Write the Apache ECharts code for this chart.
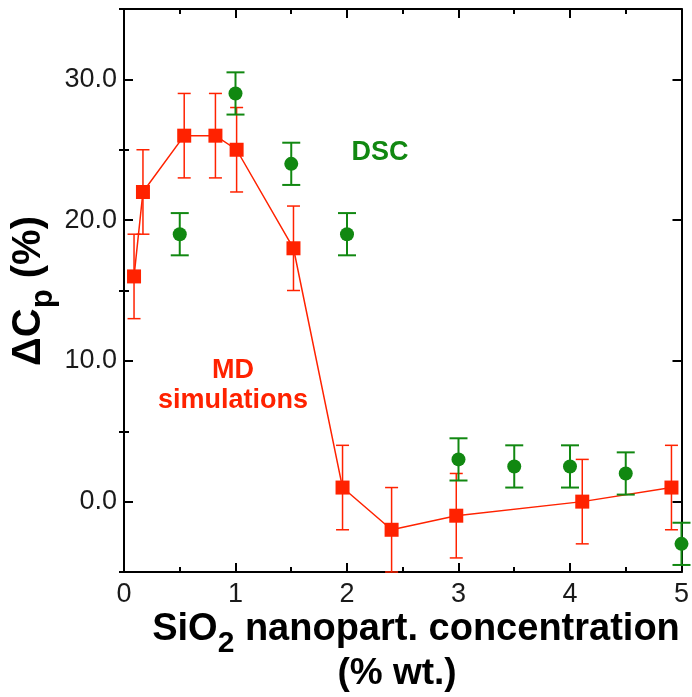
<!DOCTYPE html>
<html>
<head>
<meta charset="utf-8">
<script src="https://cdn.jsdelivr.net/npm/echarts@6/dist/echarts.min.js"></script>
<style>
  html, body { margin: 0; padding: 0; background: #fff; }
  #chart { width: 692px; height: 697px; }
</style>
</head>
<body>
<div id="chart"></div>
<script>
  // MD simulations (red squares + line)
  var mdX = [0.09, 0.17, 0.54, 0.82, 1.01, 1.52, 1.96, 2.40, 2.98, 4.11, 4.91];
  var mdY = [16, 22, 26, 26, 25, 18, 1, -2, -1, 0, 1];
  var mdErr = [3, 3, 3, 3, 3, 3, 3, 3, 3, 3, 3];
  // DSC measurements (green circles)
  var dscX = [0.5, 1.0, 1.5, 2.0, 3.0, 3.5, 4.0, 4.5, 5.0];
  var dscY = [19, 29, 24, 19, 3, 2.5, 2.5, 2, -3];
  var dscErr = [1.5, 1.5, 1.5, 1.5, 1.5, 1.5, 1.5, 1.5, 1.5];
  // y ticks
  var yMajor = [0, 10, 20, 30];
  var yMinor = [-5, 5, 15, 25, 35];

  var RED = '#ff2200';
  var GREEN = '#118811';
  var FONT = 'Liberation Sans, Arial, Helvetica, sans-serif';

  function pairs(xs, ys) {
    return xs.map(function (x, i) { return [x, ys[i]]; });
  }
  function ranges(xs, ys, es) {
    return xs.map(function (x, i) { return [x, ys[i] - es[i], ys[i] + es[i]]; });
  }

  // error bar with caps
  function errorBar(color, capHalf, width) {
    return function (params, api) {
      var x = api.value(0);
      var lo = api.coord([x, api.value(1)]);
      var hi = api.coord([x, api.value(2)]);
      var style = { stroke: color, lineWidth: width };
      return {
        type: 'group',
        children: [
          { type: 'line', shape: { x1: lo[0], y1: lo[1], x2: hi[0], y2: hi[1] }, style: style },
          { type: 'line', shape: { x1: lo[0] - capHalf, y1: lo[1], x2: lo[0] + capHalf, y2: lo[1] }, style: style },
          { type: 'line', shape: { x1: hi[0] - capHalf, y1: hi[1], x2: hi[0] + capHalf, y2: hi[1] }, style: style }
        ]
      };
    };
  }

  var axisLine = { show: true, onZero: false, lineStyle: { color: '#000', width: 2 } };
  var tickStyle = { color: '#000', width: 2 };
  var majorTick = { show: true, inside: true, length: 9, lineStyle: tickStyle };
  var minorTick = { show: true, splitNumber: 2, length: 5, lineStyle: tickStyle };

  function yAxisPair(pos, withLabels) {
    return [
      {
        type: 'value', min: -5, max: 35, position: pos,
        axisLine: axisLine,
        axisTick: { show: true, inside: true, length: 9, lineStyle: tickStyle, customValues: yMajor },
        splitLine: { show: false },
        axisLabel: withLabels ? {
          fontSize: 27, color: '#1a1a1a', fontFamily: FONT, margin: 7,
          customValues: yMajor,
          formatter: function (v) { return v.toFixed(1); }
        } : { show: false }
      },
      {
        type: 'value', min: -5, max: 35, position: pos,
        axisLine: { show: false },
        axisTick: { show: true, inside: true, length: 5, lineStyle: tickStyle, customValues: yMinor },
        splitLine: { show: false }, axisLabel: { show: false }
      }
    ];
  }

  var myChart = echarts.init(document.getElementById('chart'));
  var option = {
    animation: false,
    grid: { left: 124, top: 9, width: 562, height: 563 },
    xAxis: [
      {
        type: 'value', min: 0, max: 5, interval: 1, position: 'bottom',
        axisLine: axisLine, axisTick: majorTick, minorTick: minorTick,
        splitLine: { show: false },
        axisLabel: { fontSize: 27, color: '#1a1a1a', fontFamily: FONT, margin: 9 }
      },
      {
        type: 'value', min: 0, max: 5, interval: 1, position: 'top',
        axisLine: axisLine, axisTick: majorTick, minorTick: minorTick,
        splitLine: { show: false }, axisLabel: { show: false }
      }
    ],
    yAxis: yAxisPair('left', true).concat(yAxisPair('right', false)),
    series: [
      {
        type: 'custom', renderItem: errorBar(RED, 6.5, 1.5),
        data: ranges(mdX, mdY, mdErr), encode: { x: 0, y: [1, 2] }, z: 2
      },
      {
        type: 'line', data: pairs(mdX, mdY), symbol: 'rect', symbolSize: 14,
        itemStyle: { color: RED }, lineStyle: { color: RED, width: 1.5 }, z: 3
      },
      {
        type: 'custom', renderItem: errorBar(GREEN, 9, 2),
        data: ranges(dscX, dscY, dscErr), encode: { x: 0, y: [1, 2] }, z: 4
      },
      {
        type: 'scatter', data: pairs(dscX, dscY), symbol: 'circle', symbolSize: 14,
        itemStyle: { color: GREEN, opacity: 1 }, z: 5
      }
    ],
    graphic: [
      {
        type: 'text', x: 380, y: 153, z: 10,
        style: { text: 'DSC', font: 'bold 27px ' + FONT, fill: GREEN, align: 'center', verticalAlign: 'middle' }
      },
      {
        type: 'text', x: 233, y: 386, z: 10,
        style: { text: 'MD\nsimulations', font: 'bold 27px ' + FONT, fill: RED, align: 'center', verticalAlign: 'middle', lineHeight: 30 }
      },
      {
        type: 'text', x: 416, y: 630, z: 10,
        style: {
          text: '{a|SiO}{s|2}{a| nanopart. concentration}',
          align: 'center', verticalAlign: 'middle',
          rich: {
            a: { fontSize: 38, fontWeight: 'bold', fontFamily: FONT, lineHeight: 58, fill: '#000' },
            s: { fontSize: 30, fontWeight: 'bold', fontFamily: FONT, lineHeight: 30, verticalAlign: 'bottom', fill: '#000' }
          }
        }
      },
      {
        type: 'text', x: 397, y: 674, z: 10,
        style: { text: '(% wt.)', font: 'bold 37px ' + FONT, fill: '#000', align: 'center', verticalAlign: 'middle' }
      },
      {
        type: 'text', x: 29, y: 291, rotation: Math.PI / 2, z: 10,
        style: {
          text: '{a|ΔC}{s|p}{a| (%)}',
          align: 'center', verticalAlign: 'middle',
          rich: {
            a: { fontSize: 40, fontWeight: 'bold', fontFamily: FONT, lineHeight: 60, fill: '#000' },
            s: { fontSize: 31, fontWeight: 'bold', fontFamily: FONT, lineHeight: 31, verticalAlign: 'bottom', fill: '#000' }
          }
        }
      }
    ]
  };
  myChart.setOption(option);
</script>
</body>
</html>
